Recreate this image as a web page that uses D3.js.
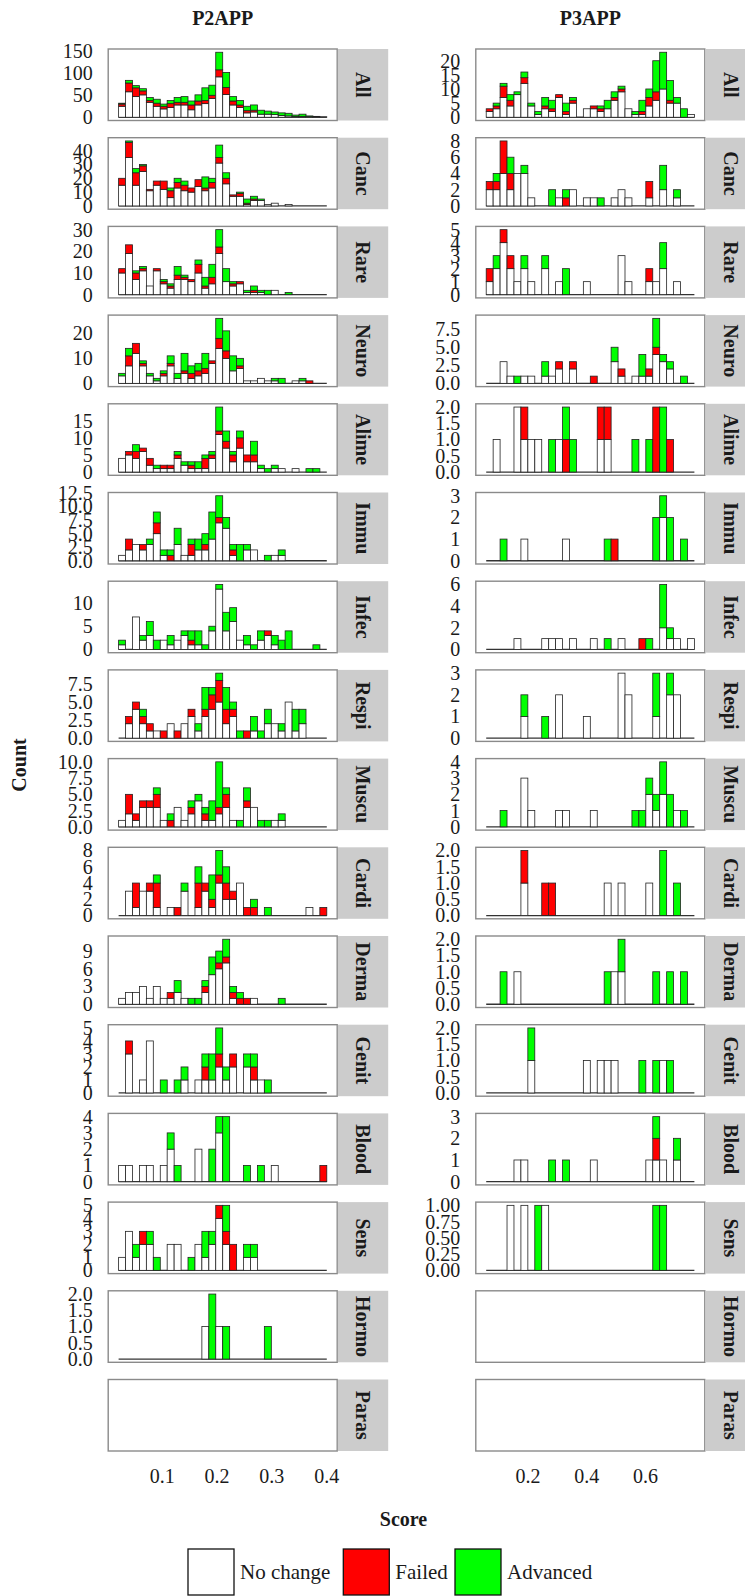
<!DOCTYPE html>
<html><head><meta charset="utf-8">
<script src="https://cdn.jsdelivr.net/npm/d3@7"></script>
<style>
body{margin:0;background:#fff}
svg{display:block}
text{font-family:"Liberation Serif","Times New Roman",serif;fill:#1a1a1a}
</style>
</head><body>
<svg id="c" width="745" height="1596"></svg>
<script>
const categories = ["All","Canc","Rare","Neuro","Alime","Immu","Infec","Respi","Muscu","Cardi","Derma","Genit","Blood","Sens","Hormo","Paras"];
const columnTitles = ["P2APP","P3APP"];
const statuses = ["No change","Failed","Advanced"];
const statusColors = ["#FFFFFF","#FF0000","#00FF00"];

const p2BinCenters = [0.0277,0.0404,0.0530,0.0657,0.0783,0.0910,0.1037,0.1163,0.1290,0.1416,0.1543,0.1670,0.1796,0.1923,0.2049,0.2176,0.2303,0.2429,0.2556,0.2682,0.2809,0.2936,0.3062,0.3189,0.3315,0.3442,0.3569,0.3695,0.3822,0.3948];
const p3BinCenters = [0.0715,0.0951,0.1187,0.1423,0.1659,0.1895,0.2131,0.2367,0.2603,0.2839,0.3075,0.3311,0.3547,0.3783,0.4019,0.4255,0.4491,0.4727,0.4963,0.5199,0.5435,0.5671,0.5907,0.6143,0.6379,0.6615,0.6851,0.7087,0.7323,0.7559];
const p2XTicks = [0.1,0.2,0.3,0.4];
const p3XTicks = [0.2,0.4,0.6];

// rows: [bin index, No change, Failed, Advanced]
const p2_All = [[0,25,5,2],[1,58,20,6],[2,47,20,5],[3,51,9,5],[4,34,4,7],[5,25,7,9],[6,19,6,5],[7,22,9,7],[8,28,6,11],[9,28,6,13],[10,17,11,9],[11,28,9,14],[12,31,7,29],[13,43,7,23],[14,92,16,40],[15,52,16,34],[16,28,9,10],[17,22,6,10],[18,10,5,10],[19,12,4,12],[20,7,0,9],[21,7,0,7],[22,6,0,6],[23,4,0,6],[24,3,0,6],[25,2,0,3],[26,2,0,5],[27,2,0,1],[28,1,0,1],[29,1,0,0]];
const p2_Canc = [[0,15,5,0],[1,35,11,1],[2,15,9,3],[3,25,4,1],[4,11,1,0],[5,15,3,0],[6,12,6,0],[7,6,5,2],[8,13,4,3],[9,11,4,3],[10,10,3,0],[11,14,5,0],[12,11,2,8],[13,13,4,3],[14,31,4,9],[15,16,4,4],[16,7,1,0],[17,7,2,1],[18,1,1,3],[19,4,1,2],[20,4,0,1],[21,1,0,0],[22,2,0,0],[24,1,0,0]];
const p2_Rare = [[0,10,2,0],[1,19,4,0],[2,7,3,1],[3,11,1,1],[4,4,0,0],[5,11,1,0],[6,5,1,1],[7,3,1,1],[8,7,2,4],[9,7,1,1],[10,6,1,0],[11,10,4,2],[12,3,1,4],[13,5,3,6],[14,19,3,8],[15,6,0,6],[16,4,1,1],[17,5,1,0],[18,1,0,1],[19,1,1,2],[20,1,0,1],[21,0,0,2],[22,2,0,0],[24,0,0,1]];
const p2_Neuro = [[0,3,0,1],[1,7,4,3],[2,12,4,0],[3,7,1,1],[4,3,0,1],[5,1,0,1],[6,3,1,1],[7,7,1,3],[8,2,0,2],[9,4,1,7],[10,2,2,3],[11,3,2,3],[12,4,2,6],[13,8,1,0],[14,14,4,8],[15,10,3,8],[16,5,0,6],[17,6,1,3],[18,1,0,0],[19,1,0,0],[20,2,0,0],[21,1,0,0],[22,1,0,1],[23,0,0,2],[25,1,0,0],[26,1,0,1],[27,0,1,0]];
const p2_Alime = [[0,4,0,0],[1,5,1,0],[2,4,2,2],[3,6,1,0],[4,2,2,0],[5,1,0,1],[6,1,1,0],[7,1,1,0],[8,4,1,1],[9,2,0,1],[10,1,1,1],[11,1,0,2],[12,1,3,1],[13,4,1,1],[14,11,1,7],[15,7,2,3],[16,3,2,1],[17,7,3,2],[18,3,2,0],[19,3,2,4],[20,1,0,1],[21,0,0,1],[22,1,0,1],[23,1,0,0],[25,1,0,0],[27,0,0,1],[28,0,0,1]];
const p2_Immu = [[0,1,0,0],[1,2,2,0],[2,3,0,0],[3,2,1,0],[4,3,0,1],[5,5,2,2],[6,1,0,1],[7,0,1,1],[8,3,0,3],[9,1,0,0],[10,1,2,1],[11,2,0,2],[12,2,1,2],[13,4,0,5],[14,7,1,4],[15,6,0,2],[16,1,1,1],[17,0,0,3],[18,2,0,1],[19,2,0,0],[21,0,0,1],[22,1,0,0],[23,1,0,1]];
const p2_Infec = [[0,1,0,1],[2,7,0,0],[3,2,0,1],[4,3,0,3],[5,0,0,2],[6,2,0,0],[7,1,0,2],[8,2,0,0],[9,3,0,1],[10,1,1,2],[11,1,0,3],[12,0,0,1],[13,4,0,1],[14,13,0,1],[15,4,0,4],[16,6,0,3],[17,2,0,0],[18,1,0,2],[19,0,0,1],[20,2,0,2],[21,3,1,0],[22,1,0,2],[23,0,0,2],[24,0,0,4],[28,0,0,1]];
const p2_Respi = [[1,2,1,0],[2,4,1,0],[3,2,1,1],[4,1,1,0],[5,1,0,0],[6,0,1,0],[7,2,0,0],[8,0,1,0],[9,2,0,0],[10,3,1,0],[11,1,0,1],[12,3,1,3],[13,4,2,1],[14,5,3,1],[15,2,2,3],[16,3,1,1],[17,0,0,1],[18,0,1,0],[19,1,0,2],[20,0,0,1],[21,2,0,2],[22,2,0,0],[23,1,0,1],[24,5,0,0],[25,1,0,3],[26,2,0,2]];
const p2_Muscu = [[0,1,0,0],[1,2,3,0],[2,1,1,0],[3,3,1,0],[4,3,1,0],[5,3,2,1],[6,1,0,0],[7,0,1,1],[8,3,0,0],[9,1,0,0],[10,2,1,1],[11,4,0,1],[12,1,1,1],[13,1,0,3],[14,2,1,7],[15,3,2,1],[16,1,0,0],[17,0,0,1],[18,3,1,2],[19,3,0,0],[20,0,0,1],[21,0,0,1],[22,1,0,0],[23,1,0,1]];
const p2_Cardi = [[1,3,0,0],[2,1,3,0],[3,3,0,0],[4,3,1,0],[5,1,3,1],[7,1,0,0],[8,0,1,0],[9,3,0,1],[11,1,3,2],[12,3,1,0],[13,1,1,3],[14,4,1,3],[15,2,2,2],[16,2,1,0],[17,4,0,0],[18,0,1,0],[19,0,1,1],[21,0,0,1],[27,1,0,0],[29,0,1,0]];
const p2_Derma = [[0,1,0,0],[1,2,0,0],[2,2,0,0],[3,3,0,0],[4,1,0,0],[5,3,0,0],[6,1,0,0],[7,1,1,0],[8,2,0,2],[9,1,0,0],[10,0,0,1],[11,0,0,1],[12,2,1,1],[13,5,0,3],[14,6,1,2],[15,7,1,3],[16,1,1,1],[17,0,1,1],[18,0,1,0],[19,1,0,0],[23,0,0,1]];
const p2_Genit = [[1,3,1,0],[3,1,0,0],[4,4,0,0],[6,0,0,1],[8,0,0,1],[9,1,0,1],[11,1,0,0],[12,1,1,1],[13,1,0,2],[14,2,1,2],[15,1,0,1],[16,2,1,0],[18,2,0,1],[19,1,1,1],[20,1,0,0],[21,0,0,1]];
const p2_Blood = [[0,1,0,0],[1,1,0,0],[3,1,0,0],[4,1,0,0],[6,1,0,0],[7,2,0,1],[8,0,0,1],[11,2,0,0],[13,0,0,2],[14,3,0,1],[15,0,0,4],[18,0,0,1],[20,0,0,1],[22,1,0,0],[29,0,1,0]];
const p2_Sens = [[0,1,0,0],[1,3,0,0],[2,1,0,1],[3,2,1,0],[4,2,0,1],[5,0,0,1],[7,2,0,0],[8,2,0,0],[10,0,0,1],[11,2,0,0],[12,1,0,2],[13,2,0,1],[14,4,1,0],[15,2,1,2],[16,0,2,0],[18,1,0,1],[19,1,0,1]];
const p2_Hormo = [[12,1,0,0],[13,0,0,2],[14,1,0,0],[15,0,0,1],[21,0,0,1]];
const p2_Paras = [];

const p3_All = [[0,2,1,0],[1,3,1,1],[2,7,4,1],[3,4,2,2],[4,8,0,1],[5,12,2,2],[6,4,0,1],[7,1,0,1],[8,3,1,3],[9,2,1,3],[10,7,1,0],[11,1,1,3],[12,5,1,1],[14,3,0,0],[15,3,1,0],[16,2,1,1],[17,3,0,3],[18,6,1,2],[19,9,1,1],[20,3,0,0],[21,1,0,1],[22,1,1,4],[23,4,3,3],[24,6,3,11],[25,10,0,13],[26,5,1,7],[27,5,0,2],[28,0,0,3],[29,1,0,0]];
const p3_Canc = [[0,2,1,0],[1,2,1,1],[2,4,4,0],[3,2,2,2],[4,4,0,0],[5,4,0,1],[6,1,0,0],[9,0,0,2],[10,1,0,0],[11,0,1,1],[12,2,0,0],[14,1,0,0],[15,1,0,0],[16,0,0,1],[18,1,0,0],[19,2,0,0],[20,1,0,0],[23,1,2,0],[25,2,0,3],[27,1,0,1]];
const p3_Rare = [[0,1,1,0],[1,2,0,1],[2,4,1,0],[3,2,1,0],[4,1,0,0],[5,2,0,1],[6,1,0,0],[8,2,0,1],[10,1,0,0],[11,0,0,2],[14,1,0,0],[19,3,0,0],[20,1,0,0],[23,1,1,0],[24,1,0,0],[25,2,0,2],[27,1,0,0]];
const p3_Neuro = [[2,3,0,0],[3,1,0,0],[4,0,0,1],[5,1,0,0],[6,1,0,0],[8,1,0,2],[9,1,0,0],[10,2,1,0],[12,2,1,0],[15,0,1,0],[18,3,0,2],[19,1,1,0],[21,1,0,0],[22,1,0,3],[23,1,1,0],[24,4,1,4],[25,3,0,1],[26,2,0,1],[28,0,0,1]];
const p3_Alime = [[1,1,0,0],[4,2,0,0],[5,1,1,0],[6,1,0,0],[7,1,0,0],[9,0,0,1],[10,1,0,0],[11,0,1,1],[12,0,0,1],[16,1,1,0],[17,1,1,0],[21,0,0,1],[23,0,0,1],[24,0,2,0],[25,0,0,2],[26,0,1,0]];
const p3_Immu = [[2,0,0,1],[5,1,0,0],[11,1,0,0],[17,0,0,1],[18,0,1,0],[24,0,0,2],[25,2,0,1],[26,0,0,2],[28,0,0,1]];
const p3_Infec = [[4,1,0,0],[8,1,0,0],[9,1,0,0],[10,1,0,0],[12,1,0,0],[15,1,0,0],[17,0,0,1],[19,1,0,0],[22,0,1,0],[23,0,0,1],[25,2,0,4],[26,1,0,1],[27,1,0,0],[29,1,0,0]];
const p3_Respi = [[5,1,0,1],[8,0,0,1],[10,2,0,0],[14,1,0,0],[19,3,0,0],[20,2,0,0],[24,1,0,2],[26,2,0,1],[27,2,0,0]];
const p3_Muscu = [[2,0,0,1],[5,3,0,0],[6,1,0,0],[10,1,0,0],[11,1,0,0],[15,1,0,0],[21,0,0,1],[22,0,0,1],[23,2,0,1],[24,1,0,1],[25,2,0,2],[26,0,0,2],[27,1,0,0],[28,0,0,1]];
const p3_Cardi = [[5,1,1,0],[8,0,1,0],[9,0,1,0],[17,1,0,0],[19,1,0,0],[23,1,0,0],[25,0,0,2],[27,0,0,1]];
const p3_Derma = [[2,0,0,1],[4,1,0,0],[17,0,0,1],[18,1,0,0],[19,1,0,1],[24,0,0,1],[26,0,0,1],[28,0,0,1]];
const p3_Genit = [[6,1,0,1],[14,1,0,0],[16,1,0,0],[17,1,0,0],[18,1,0,0],[22,0,0,1],[24,0,0,1],[25,1,0,0],[26,0,0,1]];
const p3_Blood = [[4,1,0,0],[5,1,0,0],[9,0,0,1],[11,0,0,1],[15,1,0,0],[23,1,0,0],[24,1,1,1],[25,1,0,0],[27,1,0,1]];
const p3_Sens = [[3,1,0,0],[5,1,0,0],[7,0,0,1],[8,1,0,0],[24,0,0,1],[25,0,0,1]];
const p3_Hormo = [];
const p3_Paras = [];

const p2YTicks = [[0,50,100,150],[0,10,20,30,40],[0,10,20,30],[0,10,20],[0,5,10,15],[0,2.5,5,7.5,10,12.5],[0,5,10],[0,2.5,5,7.5],[0,2.5,5,7.5,10],[0,2,4,6,8],[0,3,6,9],[0,1,2,3,4,5],[0,1,2,3,4],[0,1,2,3,4,5],[0,0.5,1,1.5,2],[]];
const p3YTicks = [[0,5,10,15,20],[0,2,4,6,8],[0,1,2,3,4,5],[0,2.5,5,7.5],[0,0.5,1,1.5,2],[0,1,2,3],[0,2,4,6],[0,1,2,3],[0,1,2,3,4],[0,0.5,1,1.5,2],[0,0.5,1,1.5,2],[0,0.5,1,1.5,2],[0,1,2,3],[0,0.25,0.5,0.75,1],[],[]];

const p2Data = [p2_All,p2_Canc,p2_Rare,p2_Neuro,p2_Alime,p2_Immu,p2_Infec,p2_Respi,p2_Muscu,p2_Cardi,p2_Derma,p2_Genit,p2_Blood,p2_Sens,p2_Hormo,p2_Paras];
const p3Data = [p3_All,p3_Canc,p3_Rare,p3_Neuro,p3_Alime,p3_Immu,p3_Infec,p3_Respi,p3_Muscu,p3_Cardi,p3_Derma,p3_Genit,p3_Blood,p3_Sens,p3_Hormo,p3_Paras];

// ---------------- layout ----------------
const rowTop0 = 49, rowPitch = 88.7, panelH = 71.5, panelW = 229, stripW = 50.3;
const colLeft = [108.2, 475.8];
const fontPx = 20;

const svg = d3.select("#c");
const cols = [
  {title: columnTitles[0], centers: p2BinCenters, xticks: p2XTicks, data: p2Data, yticks: p2YTicks},
  {title: columnTitles[1], centers: p3BinCenters, xticks: p3XTicks, data: p3Data, yticks: p3YTicks}
];

function decimalsOf(ticks){
  if (ticks.length < 2) return 0;
  const step = +(ticks[1]-ticks[0]).toFixed(6);
  const s = String(step);
  return s.includes(".") ? s.split(".")[1].length : 0;
}

const lastBottom = rowTop0 + rowPitch*(categories.length-1) + panelH;

cols.forEach((col, ci) => {
  const left = colLeft[ci], right = left + panelW;
  const w = col.centers[1] - col.centers[0];
  const lo = col.centers[0] - w/2, hi = col.centers[col.centers.length-1] + w/2;
  const pad = (hi - lo) * 0.05;
  const x = d3.scaleLinear().domain([lo - pad, hi + pad]).range([left, right]);

  svg.append("text").attr("x", (left+right)/2).attr("y", 25)
    .attr("text-anchor","middle").attr("font-weight","bold").attr("font-size", fontPx)
    .text(col.title);

  categories.forEach((cat, ri) => {
    const top = rowTop0 + rowPitch*ri, bottom = top + panelH;
    const g = svg.append("g");
    g.append("rect").attr("x", left).attr("y", top).attr("width", panelW).attr("height", panelH).attr("fill","#fff");
    const rows = col.data[ri];
    if (rows.length) {
      const M = d3.max(rows, r => r[1]+r[2]+r[3]);
      const y = d3.scaleLinear().domain([-0.05*M, 1.05*M]).range([bottom, top]);
      g.append("line").attr("x1", x(lo)).attr("x2", x(hi)).attr("y1", y(0)).attr("y2", y(0))
        .attr("stroke","#333").attr("stroke-width",1.3);
      const segs = [];
      rows.forEach(r => {
        let cum = 0;
        for (let s = 0; s < 3; s++) {
          const v = r[s+1];
          if (v > 0) { segs.push({bin: r[0], s, y0: cum, y1: cum + v}); cum += v; }
        }
      });
      g.selectAll("rect.bar").data(segs).join("rect").attr("class","bar")
        .attr("x", d => x(col.centers[d.bin] - w/2))
        .attr("width", d => x(col.centers[d.bin] + w/2) - x(col.centers[d.bin] - w/2))
        .attr("y", d => y(d.y1))
        .attr("height", d => y(d.y0) - y(d.y1))
        .attr("fill", d => statusColors[d.s])
        .attr("stroke", "#222").attr("stroke-width", 0.8);
      const yt = col.yticks[ri];
      const dec = decimalsOf(yt);
      const ax = svg.append("g").attr("transform", `translate(${left},0)`)
        .call(d3.axisLeft(y).tickValues(yt).tickFormat(d3.format(`.${dec}f`)).tickSize(0).tickPadding(15.5));
      ax.select(".domain").remove();
      ax.selectAll("text").attr("font-size", fontPx).attr("font-family", '"Liberation Serif",serif').attr("fill","#1a1a1a");
    }
    g.append("rect").attr("x", left).attr("y", top).attr("width", panelW).attr("height", panelH)
      .attr("fill","none").attr("stroke","#8a8a8a").attr("stroke-width",1.4);
    // strip
    g.append("rect").attr("x", right + 0.7).attr("y", top).attr("width", stripW).attr("height", panelH).attr("fill","#cccccc");
    g.append("text").attr("transform", `translate(${right + 0.7 + stripW/2},${top + panelH/2}) rotate(90)`)
      .attr("text-anchor","middle").attr("dy","0.35em").attr("font-weight","bold").attr("font-size", fontPx)
      .text(cat);
  });

  const xa = svg.append("g").attr("transform", `translate(0,${lastBottom})`)
    .call(d3.axisBottom(x).tickValues(col.xticks).tickFormat(d3.format(".1f")).tickSize(0).tickPadding(18));
  xa.select(".domain").remove();
  xa.selectAll("text").attr("font-size", fontPx).attr("font-family", '"Liberation Serif",serif').attr("fill","#1a1a1a");
});

// axis titles
svg.append("text").attr("transform","translate(19,765) rotate(-90)").attr("text-anchor","middle")
  .attr("dy","0.35em").attr("font-weight","bold").attr("font-size", fontPx).text("Count");
svg.append("text").attr("x", 403.5).attr("y", 1519).attr("dy","0.35em")
  .attr("text-anchor","middle").attr("font-weight","bold").attr("font-size", fontPx).text("Score");

// legend
const leg = svg.append("g");
const keyS = 46, keyTop = 1549;
const keyX = [188, 343.3, 455];
statuses.forEach((s, i) => {
  leg.append("rect").attr("x", keyX[i]).attr("y", keyTop).attr("width", keyS).attr("height", keyS)
    .attr("fill", statusColors[i]).attr("stroke","#111").attr("stroke-width",1.3);
  leg.append("text").attr("x", keyX[i] + keyS + 6).attr("y", keyTop + keyS/2).attr("dy","0.35em")
    .attr("font-size", 21).text(s);
});
</script>
</body></html>
